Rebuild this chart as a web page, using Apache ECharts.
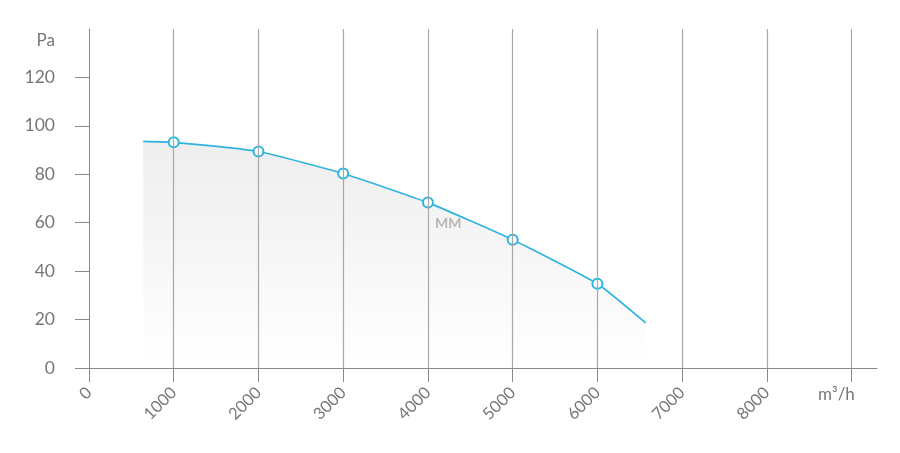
<!DOCTYPE html>
<html><head><meta charset="utf-8">
<script src="https://cdn.jsdelivr.net/npm/echarts@6/dist/echarts.min.js"></script>
<style>html,body{margin:0;padding:0;background:#fff}#c{width:900px;height:453px}</style>
</head><body><div id="c"></div>
<script>
// Data
const flow = [640, 1000, 2000, 3000, 4000, 5000, 6000, 6570];
const pressure = [93.6, 93.2, 89.4, 80.3, 68.3, 53.0, 34.8, 18.6];
const markedFlows = [1000, 2000, 3000, 4000, 5000, 6000];
const xTicks = [0, 1000, 2000, 3000, 4000, 5000, 6000, 7000, 8000, 9000];
const xLabels = [0, 1000, 2000, 3000, 4000, 5000, 6000, 7000, 8000];
const yTicks = [0, 20, 40, 60, 80, 100, 120];
const seriesName = 'MM';

const blue = '#2fb4e0';
const font = 'Lato, "Open Sans", sans-serif';

const chart = echarts.init(document.getElementById('c'), null, {renderer: 'canvas'});
const data = flow.map((f, i) => {
  const marked = markedFlows.includes(f);
  const item = {value: [f, pressure[i]], symbol: marked ? 'circle' : 'none'};
  if (f === 4000) {
    item.label = {show: true, formatter: seriesName, position: [13, 20],
      color: '#b8b8b8', fontWeight: 'bold', fontSize: 14, fontFamily: font};
  }
  return item;
});

chart.setOption({
  animation: false,
  grid: {left: 89, right: 23, top: 29, bottom: 85, containLabel: false},
  xAxis: {
    type: 'value', min: 0, max: 9300,
    axisLine: {show: true, lineStyle: {color: '#888', width: 1}},
    axisTick: {show: true, length: 14, customValues: xTicks, lineStyle: {color: '#888'}},
    axisLabel: {show: true, customValues: xLabels, rotate: 45, margin: 22,
      formatter: v => String(v),
      color: '#777', fontSize: 16.5, fontFamily: font},
    splitLine: {show: false}
  },
  yAxis: {
    type: 'value', min: 0, max: 140,
    name: 'Pa', nameLocation: 'end', nameGap: -3,
    nameTextStyle: {color: '#777', fontSize: 17, fontFamily: font, align: 'right', padding: [0, 34, 0, 0], verticalAlign: 'top'},
    axisLine: {show: true, lineStyle: {color: '#888', width: 1}},
    axisTick: {show: true, length: 14, customValues: yTicks, lineStyle: {color: '#888'}},
    axisLabel: {show: true, customValues: yTicks, margin: 34, color: '#777', fontSize: 17.5, fontFamily: font},
    splitLine: {show: false}
  },
  graphic: [{
    type: 'text', left: 818, top: 386,
    style: {text: 'm³/h', fill: '#777', fontSize: 17, fontFamily: font}
  }],
  series: [{
    name: seriesName,
    type: 'line',
    data: data,
    smooth: 0.15,
    symbolSize: 10,
    itemStyle: {color: '#fff', borderColor: blue, borderWidth: 2},
    lineStyle: {color: blue, width: 1.7},
    areaStyle: {
      color: new echarts.graphic.LinearGradient(0, 0, 0, 1, [
        {offset: 0, color: 'rgba(228,228,228,0.9)'},
        {offset: 1, color: 'rgba(255,255,255,0.9)'}
      ])
    },
    markLine: {
      silent: true, symbol: 'none', label: {show: false},
      lineStyle: {color: '#a8a8a8', type: 'solid', width: 1.2},
      data: xTicks.filter(v => v > 0).map(v => ({xAxis: v}))
    },
    z: 3
  }]
});
</script></body></html>
